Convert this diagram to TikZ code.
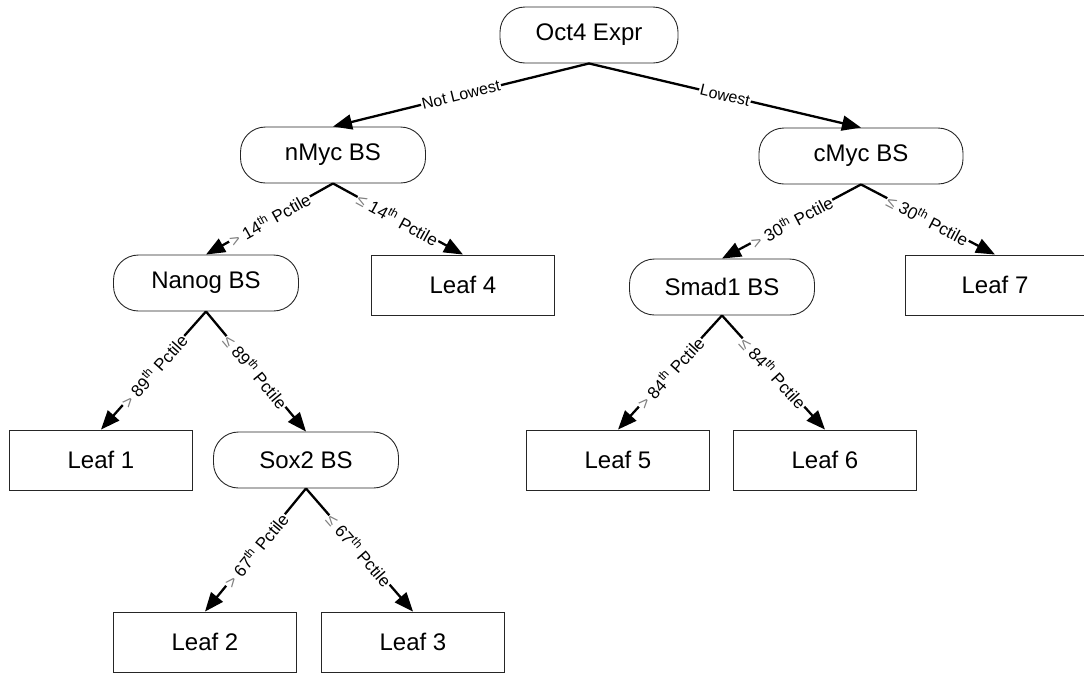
\documentclass[tikz,border=0pt]{standalone}
\usepackage{fontspec}
\setmainfont{Liberation Sans}
\usepackage{tikz}
\usetikzlibrary{arrows.meta}
\newcommand{\pct}[2]{{\color{black!50}#1}~#2\textsuperscript{th}~Pctile}

\begin{document}
\begin{tikzpicture}[x=1pt, y=-1pt,
  split/.style={draw=black!85, rounded corners=25pt, minimum width=185pt, minimum height=56pt,
                font=\fontsize{24}{28}\selectfont, line width=0.9pt},
  leaf/.style={draw=black!85, minimum width=183pt, minimum height=60pt,
               font=\fontsize{24}{28}\selectfont, line width=0.9pt},
  arr/.style={-{Triangle[length=19pt,width=15pt]}, line width=2.3pt},
  lbl/.style={fill=white, inner sep=1pt, font=\fontsize{16}{18}\selectfont, sloped},
  plbl/.style={lbl, font=\fontsize{17}{19}\selectfont}
]
\useasboundingbox (0,0) rectangle (1084,673);
% splits
\node[split, minimum width=178pt] (oct) at (589,35) {Oct4 Expr};
\node[split] (nmyc) at (333,155) {nMyc BS};
\node[split, minimum width=204pt] (cmyc) at (861,156) {cMyc BS};
\node[split] (nanog) at (206,283) {Nanog BS};
\node[split] (smad) at (722,287) {Smad1 BS};
\node[split] (sox) at (306,460) {Sox2 BS};
% leaves
\node[leaf] (leafd) at (463,285) {Leaf 4};
\node[leaf, minimum width=180pt] (leafg) at (995,285) {Leaf 7};
\node[leaf] (leafa) at (101,460) {Leaf 1};
\node[leaf] (leafe) at (618,460) {Leaf 5};
\node[leaf] (leaff) at (825,460) {Leaf 6};
\node[leaf] (leafb) at (205,642) {Leaf 2};
\node[leaf] (leafc) at (413,642) {Leaf 3};
% edges
\draw[arr] (oct.south) -- node[lbl]{Not Lowest} (nmyc.north);
\draw[arr] (oct.south) -- node[lbl]{Lowest} (cmyc.north);
\draw[arr] (nmyc.south) -- node[plbl]{\pct{>}{14}} (nanog.north);
\draw[arr] (nmyc.south) -- node[plbl]{\pct{≤}{14}} (leafd.north);
\draw[arr] (cmyc.south) -- node[plbl]{\pct{>}{30}} (smad.north);
\draw[arr] (cmyc.south) -- node[plbl]{\pct{≤}{30}} (leafg.north);
\draw[arr] (nanog.south) -- node[plbl]{\pct{>}{89}} (leafa.north);
\draw[arr] (nanog.south) -- node[plbl]{\pct{≤}{89}} (sox.north);
\draw[arr] (smad.south) -- node[plbl]{\pct{>}{84}} (leafe.north);
\draw[arr] (smad.south) -- node[plbl]{\pct{≤}{84}} (leaff.north);
\draw[arr] (sox.south) -- node[plbl]{\pct{>}{67}} (leafb.north);
\draw[arr] (sox.south) -- node[plbl]{\pct{≤}{67}} (leafc.north);
\end{tikzpicture}
\end{document}
